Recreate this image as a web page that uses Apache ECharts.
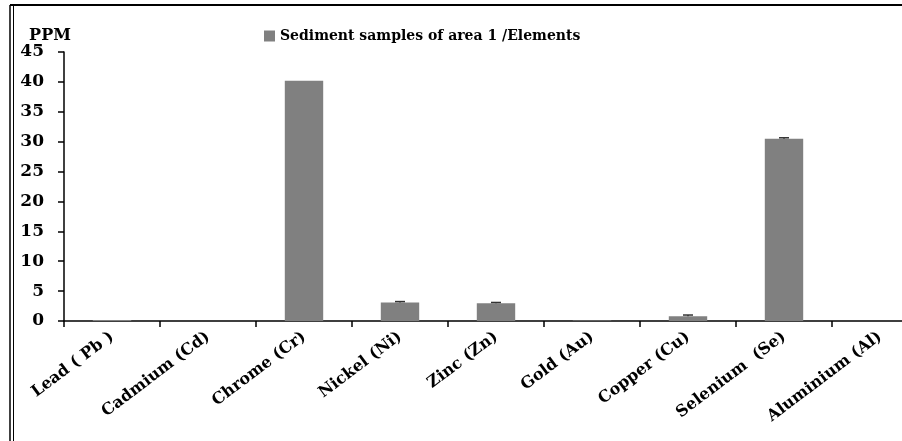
<!DOCTYPE html>
<html>
<head>
<meta charset="utf-8">
<script src="https://cdn.jsdelivr.net/npm/echarts@6/dist/echarts.min.js"></script>
<style>
  html, body { margin: 0; padding: 0; background: #fff; overflow: hidden; }
  /* wider than the window: the original plot is cut off on the right */
  #chart { width: 940px; height: 441px; }
</style>
</head>
<body>
<div id="chart"></div>
<script>
const elements = ['Lead ( Pb )', 'Cadmium (Cd)', 'Chrome (Cr)', 'Nickel (Ni)', 'Zinc (Zn)', 'Gold (Au)', 'Copper (Cu)', 'Selenium  (Se)', 'Aluminium (Al)']
const ppm = [0.15, 0, 40.2, 3.1, 2.95, 0.1, 0.8, 30.5, 0]
const ppmErr = [0, 0, 0, 0.15, 0.15, 0, 0.2, 0.15, 0]
const yTicks = [0, 5, 10, 15, 20, 25, 30, 35, 40, 45]

const font = 'DejaVu Serif'
const chart = echarts.init(document.getElementById('chart'))

chart.setOption({
  animation: false,
  grid: { left: 64, right: 12, top: 52, bottom: 120, containLabel: false },
  legend: {
    top: 24, left: 259,
    itemWidth: 11, itemHeight: 11, itemGap: 4,
    data: [{ name: 'Sediment samples of area 1 /Elements', icon: 'rect' }],
    textStyle: { fontFamily: font, fontWeight: 'bold', fontSize: 14, color: '#000' }
  },
  graphic: [
    { type: 'line', shape: { x1: 10, y1: 5, x2: 940, y2: 5 }, style: { stroke: '#000', lineWidth: 2 } },
    { type: 'line', shape: { x1: 10, y1: 5, x2: 10, y2: 441 }, style: { stroke: '#000', lineWidth: 1.5 } },
    { type: 'line', shape: { x1: 13.5, y1: 5, x2: 13.5, y2: 441 }, style: { stroke: '#000', lineWidth: 1 } }
  ],
  xAxis: {
    type: 'category',
    data: elements,
    axisLine: { lineStyle: { color: '#000', width: 1.5 } },
    axisTick: { show: true, alignWithLabel: false, length: 6, lineStyle: { color: '#000', width: 1.5 } },
    axisLabel: {
      rotate: 37, interval: 0, margin: 14,
      fontFamily: font, fontWeight: 'bold', fontSize: 16, color: '#000'
    }
  },
  yAxis: {
    type: 'value',
    min: 0, max: 45, interval: 5,
    name: 'PPM',
    nameLocation: 'end',
    nameGap: 7,
    nameTextStyle: { fontFamily: font, fontWeight: 'bold', fontSize: 16, color: '#000', align: 'center', padding: [0, 28, 0, 0] },
    splitLine: { show: false },
    axisLine: { show: true, lineStyle: { color: '#000', width: 1.5 } },
    axisTick: { show: true, length: 6, lineStyle: { color: '#000', width: 1.5 } },
    axisLabel: {
      margin: 20,
      fontFamily: font, fontWeight: 'bold', fontSize: 17, color: '#000',
      formatter: v => yTicks.includes(v) ? String(v) : ''
    }
  },
  series: [
    {
      name: 'Sediment samples of area 1 /Elements',
      type: 'bar',
      data: ppm,
      barWidth: '40%',
      itemStyle: { color: '#808080' }
    },
    {
      type: 'custom',
      name: 'err',
      data: ppm.map((v, i) => [i, v, ppmErr[i]]),
      z: 5,
      renderItem: (params, api) => {
        const e = api.value(2)
        if (!e) return
        const base = api.coord([api.value(0), api.value(1)])
        const top = api.coord([api.value(0), api.value(1) + e])
        const style = { stroke: '#333', lineWidth: 1.5 }
        return {
          type: 'group',
          children: [
            { type: 'line', shape: { x1: base[0], y1: base[1], x2: top[0], y2: top[1] }, style },
            { type: 'line', shape: { x1: top[0] - 5, y1: top[1], x2: top[0] + 5, y2: top[1] }, style }
          ]
        }
      }
    }
  ]
})
</script>
</body>
</html>
